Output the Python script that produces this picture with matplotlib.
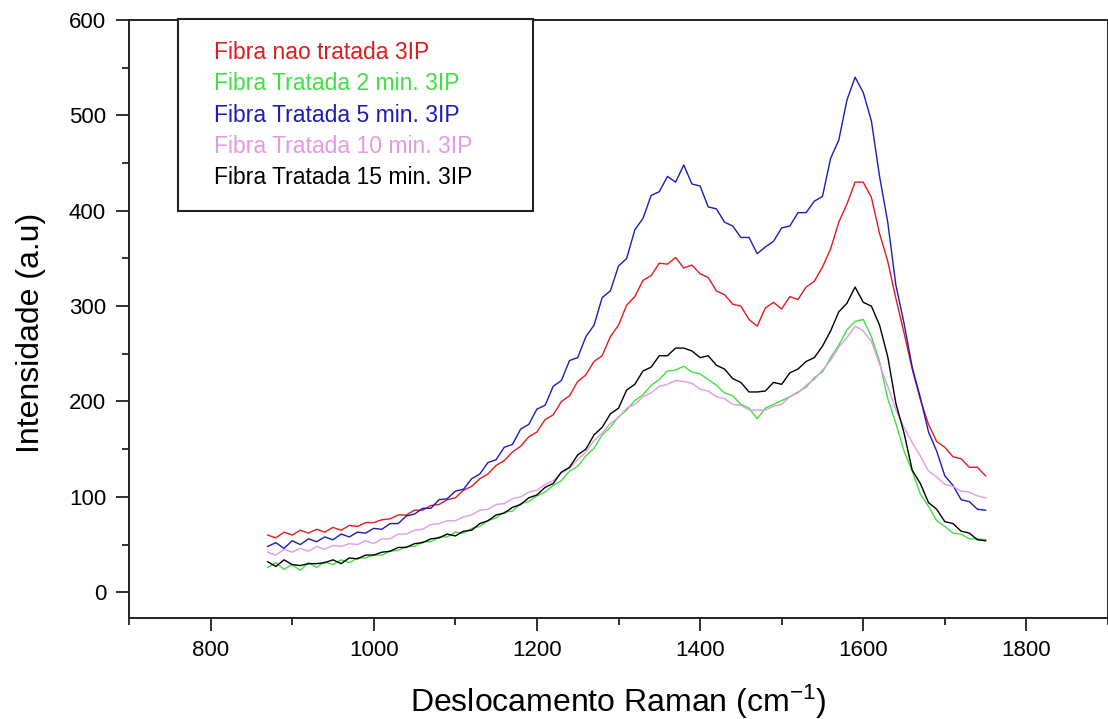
import numpy as np
import matplotlib
matplotlib.use("Agg")
import matplotlib.pyplot as plt
from matplotlib.ticker import MultipleLocator

plt.rcParams['font.family'] = ['Liberation Sans', 'DejaVu Sans']
plt.rcParams['mathtext.default'] = 'regular'

# Raman shift grid (cm-1), one reading every 10 cm-1
shift = np.arange(870, 1760, 10)

# intensities
nao_tratada = [60, 57, 63, 60, 65, 62, 66, 63, 68, 65, 70, 69, 73, 73,
               76, 77, 81, 81, 86, 86, 91, 92, 97, 99,
               107, 111, 119, 124, 133, 138, 147, 153, 163, 168,
               181, 186, 200, 206, 221, 228, 242, 248, 268, 280,
               301, 310, 327, 332, 345, 344, 351, 340, 343, 334,
               330, 316, 312, 302, 300, 286, 279, 298, 304, 297,
               310, 307, 320, 326, 341, 360, 388, 407, 430, 430,
               414, 376, 347, 308, 272, 234, 202, 176, 158, 152,
               142, 140, 131, 131, 122]
tratada_2 = [26, 31, 24, 29, 23, 31, 26, 32, 29, 34, 31, 36, 36, 39,
             39, 43, 44, 48, 48, 53, 53, 58, 58, 63,
             62, 67, 69, 75, 78, 84, 85, 93, 95, 101,
             105, 112, 117, 127, 132, 143, 151, 165, 173, 184,
             191, 201, 207, 217, 223, 232, 233, 237, 231, 229,
             223, 217, 209, 206, 197, 193, 182, 193, 197, 201,
             205, 210, 215, 225, 231, 246, 259, 275, 284, 286,
             268, 242, 203, 177, 148, 127, 103, 90, 75, 69,
             62, 61, 56, 56, 55]
tratada_5 = [48, 52, 46, 54, 50, 56, 53, 58, 55, 61, 58, 63, 62, 67,
             66, 72, 72, 80, 82, 88, 88, 97, 98, 106,
             108, 119, 124, 136, 139, 152, 155, 171, 176, 192,
             196, 216, 222, 243, 246, 268, 280, 309, 316, 342,
             350, 380, 392, 416, 420, 436, 430, 448, 428, 426,
             404, 402, 388, 384, 372, 372, 355, 362, 368, 382,
             384, 398, 398, 410, 415, 455, 474, 516, 540, 524,
             494, 436, 388, 322, 282, 236, 204, 168, 148, 122,
             112, 97, 95, 87, 86]
tratada_10 = [42, 39, 45, 42, 46, 43, 48, 45, 49, 48, 51, 50, 54, 51,
              56, 56, 61, 61, 65, 66, 71, 72, 75, 75,
              79, 81, 86, 87, 92, 93, 98, 100, 105, 107,
              113, 117, 125, 130, 139, 147, 159, 167, 177, 183,
              193, 197, 205, 209, 216, 218, 222, 221, 219, 213,
              211, 205, 203, 197, 196, 191, 191, 191, 195, 197,
              205, 209, 217, 223, 233, 243, 257, 267, 279, 274,
              263, 239, 216, 191, 173, 157, 143, 127, 121, 113,
              111, 106, 105, 101, 99]
tratada_15 = [32, 27, 34, 29, 28, 30, 30, 31, 34, 30, 36, 35, 39, 39,
              42, 43, 47, 47, 51, 52, 56, 57, 61, 59,
              64, 65, 72, 75, 81, 83, 89, 92, 99, 102,
              110, 114, 126, 131, 144, 150, 165, 173, 187, 193,
              212, 218, 232, 236, 248, 248, 256, 256, 253, 246,
              248, 238, 234, 224, 220, 210, 210, 211, 220, 218,
              230, 234, 242, 246, 258, 274, 294, 303, 320, 304,
              300, 280, 247, 198, 167, 128, 114, 94, 87, 74,
              72, 64, 62, 55, 54]

labels = ['Fibra nao tratada 3IP', 'Fibra Tratada 2 min. 3IP', 'Fibra Tratada 5 min. 3IP',
          'Fibra Tratada 10 min. 3IP', 'Fibra Tratada 15 min. 3IP']
series = [nao_tratada, tratada_2, tratada_5, tratada_10, tratada_15]
colors = ['#e3191f', '#3fe03f', '#1c1cb8', '#e39ae3', '#000000']

fig = plt.figure(figsize=(11.08, 7.19), dpi=100)
ax = fig.add_axes([129 / 1108, 101 / 719, 979 / 1108, 598 / 719])

for y, lab, c in zip(series, labels, colors):
    ax.plot(shift, y, color=c, lw=1.0, label=lab)

ax.set_xlim(700, 1900)
ax.set_ylim(-27, 600)
ax.xaxis.set_major_locator(MultipleLocator(200))
ax.xaxis.set_minor_locator(MultipleLocator(100))
ax.yaxis.set_major_locator(MultipleLocator(100))
ax.yaxis.set_minor_locator(MultipleLocator(50))

for s in ax.spines.values():
    s.set_linewidth(1.4)
    s.set_color('#222222')
ax.tick_params(which='major', length=9.5, width=1.3, labelsize=16, color='#222222')
ax.tick_params(which='minor', length=5, width=1.3, color='#222222')
ax.tick_params(axis='x', pad=6)
ax.tick_params(axis='y', pad=7)

ax.set_xlabel('Deslocamento Raman (cm$^{-1}$)', fontsize=23, labelpad=16)
ax.set_ylabel('Intensidade (a.u)', fontsize=23)
ax.yaxis.set_label_coords(-0.085, 0.477)

leg = ax.legend(handlelength=0, handletextpad=0.62, fontsize=16.5, labelspacing=0.36,
                borderpad=0.96, loc='upper left', mode='expand', borderaxespad=0,
                bbox_to_anchor=(178 / 1108, 1 - 211 / 719, 355 / 1108, 192 / 719),
                bbox_transform=fig.transFigure, fancybox=False, framealpha=1,
                edgecolor='#222222')
leg.get_frame().set_linewidth(1.5)
for txt, c in zip(leg.get_texts(), colors):
    txt.set_color(c)
for h in leg.legend_handles:
    h.set_visible(False)

fig.savefig('out.png', dpi=100)
